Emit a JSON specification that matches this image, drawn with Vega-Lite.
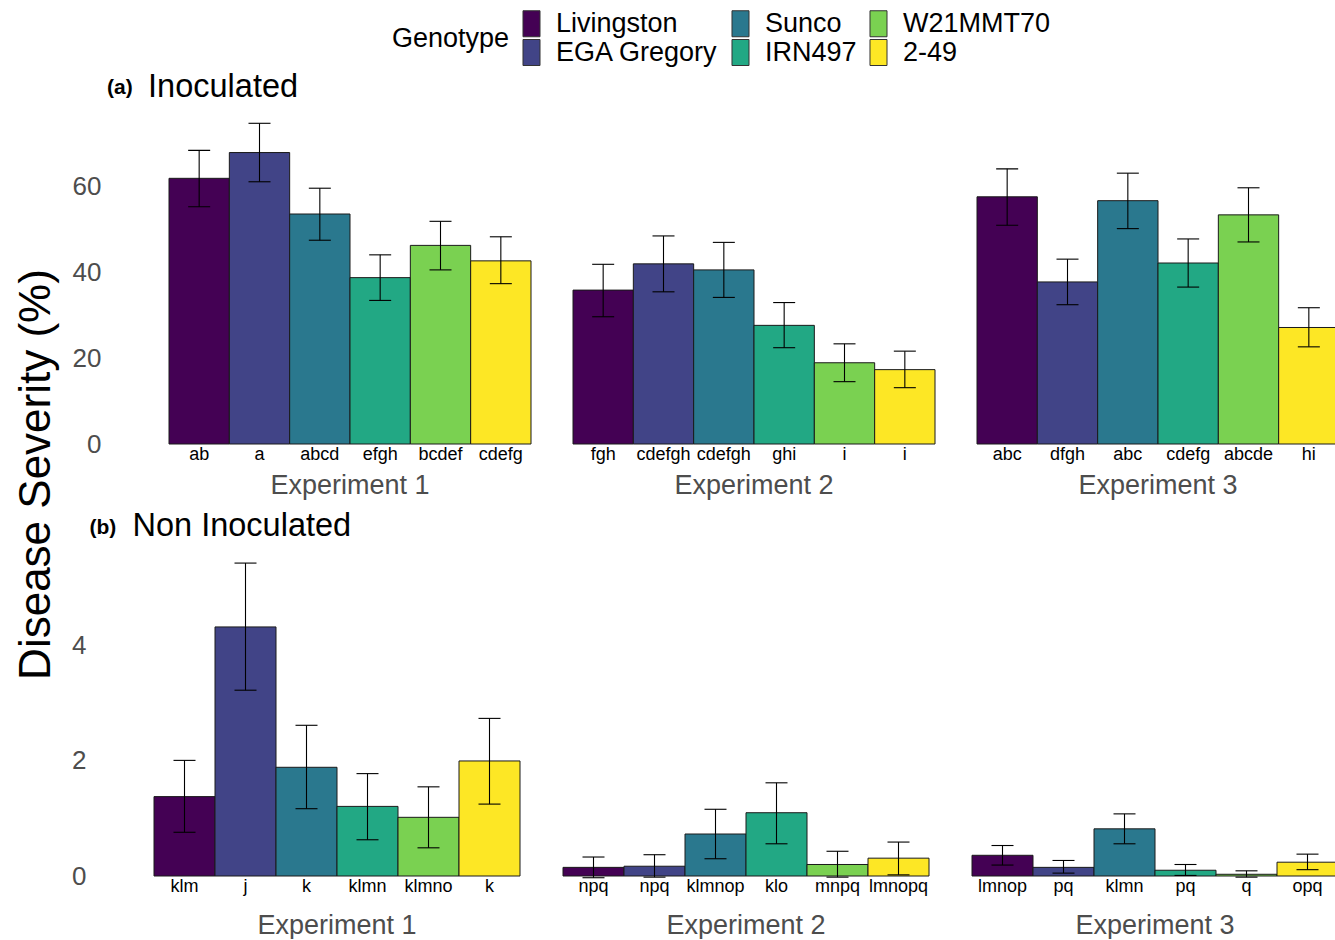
{
  "$schema": "https://vega.github.io/schema/vega-lite/v6.json",
  "padding": {"left": 14, "top": 10, "right": 0, "bottom": 0},
  "datasets": {
    "d": [
      {"panel": "a", "exp": "Experiment 1", "genotype": "Livingston", "mean": 61.8, "lo": 55.2, "hi": 68.3, "letter": "ab"},
      {"panel": "a", "exp": "Experiment 1", "genotype": "EGA Gregory", "mean": 67.8, "lo": 61.0, "hi": 74.6, "letter": "a"},
      {"panel": "a", "exp": "Experiment 1", "genotype": "Sunco", "mean": 53.5, "lo": 47.4, "hi": 59.5, "letter": "abcd"},
      {"panel": "a", "exp": "Experiment 1", "genotype": "IRN497", "mean": 38.7, "lo": 33.4, "hi": 44.0, "letter": "efgh"},
      {"panel": "a", "exp": "Experiment 1", "genotype": "W21MMT70", "mean": 46.2, "lo": 40.5, "hi": 51.8, "letter": "bcdef"},
      {"panel": "a", "exp": "Experiment 1", "genotype": "2-49", "mean": 42.6, "lo": 37.3, "hi": 48.2, "letter": "cdefg"},
      {"panel": "a", "exp": "Experiment 2", "genotype": "Livingston", "mean": 35.8, "lo": 29.6, "hi": 41.8, "letter": "fgh"},
      {"panel": "a", "exp": "Experiment 2", "genotype": "EGA Gregory", "mean": 41.9, "lo": 35.4, "hi": 48.4, "letter": "cdefgh"},
      {"panel": "a", "exp": "Experiment 2", "genotype": "Sunco", "mean": 40.5, "lo": 34.1, "hi": 46.9, "letter": "cdefgh"},
      {"panel": "a", "exp": "Experiment 2", "genotype": "IRN497", "mean": 27.6, "lo": 22.4, "hi": 32.9, "letter": "ghi"},
      {"panel": "a", "exp": "Experiment 2", "genotype": "W21MMT70", "mean": 18.9, "lo": 14.5, "hi": 23.3, "letter": "i"},
      {"panel": "a", "exp": "Experiment 2", "genotype": "2-49", "mean": 17.3, "lo": 13.1, "hi": 21.6, "letter": "i"},
      {"panel": "a", "exp": "Experiment 3", "genotype": "Livingston", "mean": 57.5, "lo": 50.9, "hi": 64.0, "letter": "abc"},
      {"panel": "a", "exp": "Experiment 3", "genotype": "EGA Gregory", "mean": 37.7, "lo": 32.4, "hi": 43.0, "letter": "dfgh"},
      {"panel": "a", "exp": "Experiment 3", "genotype": "Sunco", "mean": 56.6, "lo": 50.1, "hi": 63.0, "letter": "abc"},
      {"panel": "a", "exp": "Experiment 3", "genotype": "IRN497", "mean": 42.1, "lo": 36.5, "hi": 47.7, "letter": "cdefg"},
      {"panel": "a", "exp": "Experiment 3", "genotype": "W21MMT70", "mean": 53.3, "lo": 47.0, "hi": 59.6, "letter": "abcde"},
      {"panel": "a", "exp": "Experiment 3", "genotype": "2-49", "mean": 27.1, "lo": 22.6, "hi": 31.7, "letter": "hi"},
      {"panel": "b", "exp": "Experiment 1", "genotype": "Livingston", "mean": 1.38, "lo": 0.76, "hi": 2.01, "letter": "klm"},
      {"panel": "b", "exp": "Experiment 1", "genotype": "EGA Gregory", "mean": 4.33, "lo": 3.23, "hi": 5.44, "letter": "j"},
      {"panel": "b", "exp": "Experiment 1", "genotype": "Sunco", "mean": 1.89, "lo": 1.17, "hi": 2.62, "letter": "k"},
      {"panel": "b", "exp": "Experiment 1", "genotype": "IRN497", "mean": 1.21, "lo": 0.63, "hi": 1.78, "letter": "klmn"},
      {"panel": "b", "exp": "Experiment 1", "genotype": "W21MMT70", "mean": 1.02, "lo": 0.49, "hi": 1.55, "letter": "klmno"},
      {"panel": "b", "exp": "Experiment 1", "genotype": "2-49", "mean": 2.0, "lo": 1.25, "hi": 2.74, "letter": "k"},
      {"panel": "b", "exp": "Experiment 2", "genotype": "Livingston", "mean": 0.15, "lo": -0.03, "hi": 0.33, "letter": "npq"},
      {"panel": "b", "exp": "Experiment 2", "genotype": "EGA Gregory", "mean": 0.17, "lo": -0.02, "hi": 0.37, "letter": "npq"},
      {"panel": "b", "exp": "Experiment 2", "genotype": "Sunco", "mean": 0.73, "lo": 0.30, "hi": 1.16, "letter": "klmnop"},
      {"panel": "b", "exp": "Experiment 2", "genotype": "IRN497", "mean": 1.10, "lo": 0.56, "hi": 1.62, "letter": "klo"},
      {"panel": "b", "exp": "Experiment 2", "genotype": "W21MMT70", "mean": 0.20, "lo": -0.02, "hi": 0.43, "letter": "mnpq"},
      {"panel": "b", "exp": "Experiment 2", "genotype": "2-49", "mean": 0.31, "lo": 0.02, "hi": 0.59, "letter": "lmnopq"},
      {"panel": "b", "exp": "Experiment 3", "genotype": "Livingston", "mean": 0.36, "lo": 0.19, "hi": 0.53, "letter": "lmnop"},
      {"panel": "b", "exp": "Experiment 3", "genotype": "EGA Gregory", "mean": 0.15, "lo": 0.05, "hi": 0.27, "letter": "pq"},
      {"panel": "b", "exp": "Experiment 3", "genotype": "Sunco", "mean": 0.82, "lo": 0.56, "hi": 1.08, "letter": "klmn"},
      {"panel": "b", "exp": "Experiment 3", "genotype": "IRN497", "mean": 0.10, "lo": 0.01, "hi": 0.20, "letter": "pq"},
      {"panel": "b", "exp": "Experiment 3", "genotype": "W21MMT70", "mean": 0.03, "lo": -0.02, "hi": 0.09, "letter": "q"},
      {"panel": "b", "exp": "Experiment 3", "genotype": "2-49", "mean": 0.24, "lo": 0.11, "hi": 0.38, "letter": "opq"}
    ]
  },
  "data": {"name": "d"},
  "title": {"text": "Disease Severity (%)", "orient": "left", "anchor": "middle", "frame": "bounds", "fontSize": 44, "fontWeight": "normal", "color": "black", "offset": 13},
  "spacing": 10,
  "vconcat": [
    {
      "title": {"text": "(a)", "anchor": "start", "frame": "bounds", "dx": 35, "dy": 31, "fontSize": 21, "fontWeight": "bold", "color": "black"},
      "bounds": "flush",
      "spacing": 14,
      "hconcat": [
        {"data": {"values": []}, "mark": "point", "width": 1, "height": 1},
        {
          "title": {"text": "Inoculated", "anchor": "start", "frame": "bounds", "dx": 76, "fontSize": 32.5, "fontWeight": "normal", "color": "black", "offset": 16},
          "transform": [{"filter": "datum.panel == 'a'"}],
          "facet": {"column": {"field": "exp", "type": "nominal", "title": null, "header": {"labelOrient": "bottom", "labelFontSize": 27, "labelColor": "#4D4D4D", "labelPadding": 9, "labelFont": "Liberation Sans"}}},
          "spacing": 40,
          "spec": {
            "width": 362,
            "height": 325,
            "encoding": {
              "x": {"field": "genotype", "type": "nominal", "sort": ["Livingston", "EGA Gregory", "Sunco", "IRN497", "W21MMT70", "2-49"], "scale": {"paddingInner": 0, "paddingOuter": 0}, "axis": null}
            },
            "layer": [
              {
                "mark": {"type": "bar", "stroke": "#1a1a1a", "strokeWidth": 1},
                "encoding": {
                  "y": {"field": "mean", "type": "quantitative", "title": null, "scale": {"domain": [0, 75.6], "nice": false, "zero": false}, "axis": {"values": [0, 20, 40, 60], "format": "d"}},
                  "color": {"field": "genotype", "type": "nominal", "scale": {"domain": ["Livingston", "EGA Gregory", "Sunco", "IRN497", "W21MMT70", "2-49"], "range": ["#440154", "#414487", "#2A788E", "#22A884", "#7AD151", "#FDE725"]},
                    "legend": {"orient": "none", "legendX": 238, "legendY": -109, "columns": 3, "title": "Genotype", "titleOrient": "left", "titleAnchor": "middle", "titleBaseline": "middle", "titlePadding": 8, "columnPadding": 8, "rowPadding": -8, "labelOffset": 11, "symbolType": "M-0.654,-1H0.654V1H-0.654Z", "symbolSize": 676, "symbolStrokeColor": "#333333", "symbolStrokeWidth": 1, "symbolOpacity": 1}}
                }
              },
              {
                "mark": {"type": "rule", "color": "black", "strokeWidth": 1.1},
                "encoding": {"y": {"field": "lo", "type": "quantitative", "title": null}, "y2": {"field": "hi"}}
              },
              {
                "mark": {"type": "tick", "color": "black", "size": 22, "thickness": 1.1, "opacity": 1},
                "encoding": {"y": {"field": "lo", "type": "quantitative", "title": null}}
              },
              {
                "mark": {"type": "tick", "color": "black", "size": 22, "thickness": 1.1, "opacity": 1},
                "encoding": {"y": {"field": "hi", "type": "quantitative", "title": null}}
              },
              {
                "mark": {"type": "text", "baseline": "top", "align": "center", "dy": 2, "fontSize": 18, "color": "black"},
                "encoding": {"y": {"datum": 0, "type": "quantitative"}, "text": {"field": "letter"}}
              }
            ]
          }
        }
      ]
    },
    {
      "title": {"text": "(b)", "anchor": "start", "frame": "bounds", "dx": 18, "dy": 32, "fontSize": 21, "fontWeight": "bold", "color": "black"},
      "vconcat": [
        {
          "title": {"text": "Non Inoculated", "anchor": "start", "frame": "bounds", "dx": 61, "fontSize": 32.5, "fontWeight": "normal", "color": "black", "offset": 9},
          "transform": [{"filter": "datum.panel == 'b'"}],
          "facet": {"column": {"field": "exp", "type": "nominal", "title": null, "header": {"labelOrient": "bottom", "labelFontSize": 27, "labelColor": "#4D4D4D", "labelPadding": 17, "labelFont": "Liberation Sans"}}},
          "spacing": 41,
          "spec": {
            "width": 366,
            "height": 325,
            "encoding": {
              "x": {"field": "genotype", "type": "nominal", "sort": ["Livingston", "EGA Gregory", "Sunco", "IRN497", "W21MMT70", "2-49"], "scale": {"paddingInner": 0, "paddingOuter": 0}, "axis": null}
            },
            "layer": [
              {
                "mark": {"type": "bar", "stroke": "#1a1a1a", "strokeWidth": 1},
                "encoding": {
                  "y": {"field": "mean", "type": "quantitative", "title": null, "scale": {"domain": [0, 5.65], "nice": false, "zero": false}, "axis": {"values": [0, 2, 4], "format": "d"}},
                  "color": {"field": "genotype", "type": "nominal", "scale": {"domain": ["Livingston", "EGA Gregory", "Sunco", "IRN497", "W21MMT70", "2-49"], "range": ["#440154", "#414487", "#2A788E", "#22A884", "#7AD151", "#FDE725"]},
                    "legend": {"orient": "none", "legendX": 238, "legendY": -109, "columns": 3, "title": "Genotype", "titleOrient": "left", "titleAnchor": "middle", "titleBaseline": "middle", "titlePadding": 8, "columnPadding": 8, "rowPadding": -8, "labelOffset": 11, "symbolType": "M-0.654,-1H0.654V1H-0.654Z", "symbolSize": 676, "symbolStrokeColor": "#333333", "symbolStrokeWidth": 1, "symbolOpacity": 1}}
                }
              },
              {
                "mark": {"type": "rule", "color": "black", "strokeWidth": 1.1},
                "encoding": {"y": {"field": "lo", "type": "quantitative", "title": null}, "y2": {"field": "hi"}}
              },
              {
                "mark": {"type": "tick", "color": "black", "size": 22, "thickness": 1.1, "opacity": 1},
                "encoding": {"y": {"field": "lo", "type": "quantitative", "title": null}}
              },
              {
                "mark": {"type": "tick", "color": "black", "size": 22, "thickness": 1.1, "opacity": 1},
                "encoding": {"y": {"field": "hi", "type": "quantitative", "title": null}}
              },
              {
                "mark": {"type": "text", "baseline": "top", "align": "center", "dy": 2, "fontSize": 18, "color": "black"},
                "encoding": {"y": {"datum": 0, "type": "quantitative"}, "text": {"field": "letter"}}
              }
            ]
          }
        }
      ]
    }
  ],
  "resolve": {"scale": {"color": "shared"}},
  "config": {
    "font": "Liberation Sans",
    "view": {"stroke": null},
    "axis": {"grid": false, "domain": false, "ticks": false, "labelFontSize": 26, "labelColor": "#4D4D4D", "labelPadding": 67, "labelFont": "Liberation Sans"},
    "legend": {"labelFontSize": 27, "titleFontSize": 27, "labelColor": "black", "titleColor": "black", "titleFontWeight": "normal", "labelFont": "Liberation Sans", "titleFont": "Liberation Sans", "padding": 0, "labelLimit": 400}
  }
}
